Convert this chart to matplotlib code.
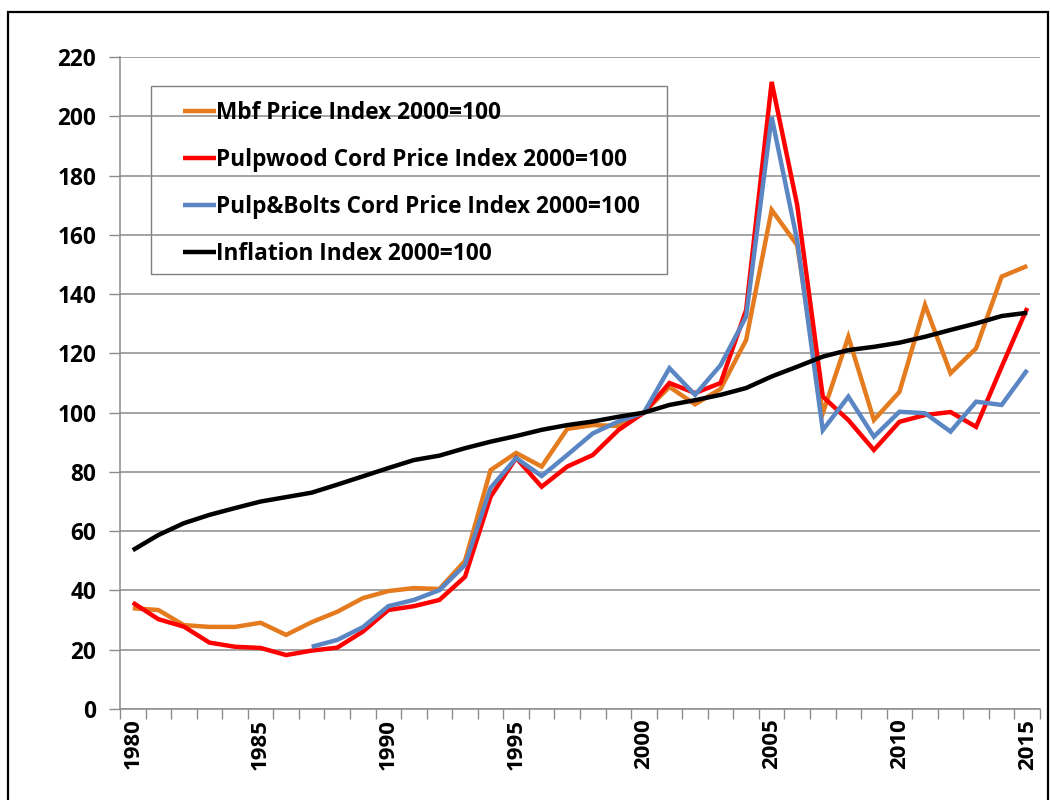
import matplotlib
matplotlib.use("Agg")
import matplotlib.pyplot as plt
from matplotlib.patches import Rectangle
from matplotlib.ticker import FixedLocator
import numpy as np

years = list(range(1980, 2016))

mbf = [34, 33.4, 28.3, 27.7, 27.7, 29.1, 25, 29.3, 32.8, 37.4, 39.8, 40.8,
       40.5, 50, 80.6, 86.4, 81.8, 94.5, 95.8, 95.5, 100, 108.7, 102.8, 108,
       124.5, 168.4, 156.5, 99.8, 125.6, 97.5, 107, 136.3, 113.3, 121.7, 145.9, 149.5]

pulpwood = [35.9, 30.3, 27.8, 22.4, 21, 20.6, 18.2, 19.7, 20.7, 26.1, 33.4, 34.7,
            36.8, 44.6, 71.6, 84.7, 75, 81.8, 85.7, 94.1, 100, 110, 106.6, 110,
            134.6, 211.6, 170, 105.4, 97.5, 87.4, 96.9, 99.2, 100.2, 95.2, 115.5, 135.3]

pulp_bolts = [None] * 7 + [21, 23.3, 27.6, 34.7, 36.8,
              40.1, 48.6, 74.6, 84.7, 78.6, 85.7, 93, 97, 100, 115, 106, 116,
              132.4, 199.8, 158, 94.1, 105.4, 91.9, 100.3, 99.8, 93.6, 103.7, 102.6, 114.4]

inflation = [53.6, 58.7, 62.7, 65.5, 67.8, 70, 71.5, 73, 75.7, 78.5, 81.3, 84,
             85.5, 88, 90.2, 92.1, 94.2, 95.8, 97, 98.6, 100, 102.6, 104.2, 106,
             108.3, 112.2, 115.5, 118.9, 121.1, 122.2, 123.6, 125.6, 127.9, 130.1, 132.6, 133.7]

labels = ["Mbf Price Index 2000=100",
          "Pulpwood Cord Price Index 2000=100",
          "Pulp&Bolts Cord Price Index 2000=100",
          "Inflation Index 2000=100"]
colors = ["#E47B1E", "#FF0000", "#5A86C4", "#000000"]

label_years = [1980, 1985, 1990, 1995, 2000, 2005, 2010, 2015]
y_ticks = list(range(0, 221, 20))

plt.rcParams['font.family'] = ['Open Sans', 'DejaVu Sans']
plt.rcParams['font.weight'] = 'bold'

W, H = 1050, 800
fig = plt.figure(figsize=(W / 100, H / 100), dpi=100)
ax = fig.add_axes([120 / W, 1 - 709 / H, (1040 - 120) / W, (709 - 57) / H])


def to_arr(v):
    return np.array([np.nan if x is None else x for x in v], dtype=float)


for data, lab, col in zip([mbf, pulpwood, pulp_bolts, inflation], labels, colors):
    ax.plot(years, to_arr(data), color=col, lw=3.2, label=lab,
            solid_joinstyle='miter', solid_capstyle='butt')

ax.set_xlim(1979.5, 2015.5)
ax.set_ylim(0, 220)
ax.set_yticks(y_ticks)
ax.set_yticklabels([str(v) for v in y_ticks])
ax.yaxis.grid(True, color="#8C8C8C", lw=1.1)
ax.set_axisbelow(True)

ax.xaxis.set_major_locator(FixedLocator(label_years))
ax.set_xticklabels([str(y) for y in label_years], rotation=90)
ax.xaxis.set_minor_locator(FixedLocator([y - 0.5 for y in years] + [2015.5]))
ax.tick_params(axis='x', which='major', length=0, pad=7, labelsize=16)
ax.tick_params(axis='x', which='minor', length=7, direction='out', color="#8C8C8C", width=1)
ax.tick_params(axis='y', which='major', length=8, direction='out', color="#8C8C8C",
               width=1, pad=9, labelsize=16.3)

for s in ['top', 'right']:
    ax.spines[s].set_visible(False)
for s in ['left', 'bottom']:
    ax.spines[s].set_color("#8C8C8C")
    ax.spines[s].set_linewidth(1.1)

# legend (frame drawn separately)
leg = ax.legend(loc='upper left',
                bbox_to_anchor=(183 / W, 1 - 101 / H), bbox_transform=fig.transFigure,
                frameon=False, prop={'size': 16.3, 'weight': 'bold'}, handlelength=1.45,
                handletextpad=0.0, labelspacing=1.01, borderpad=0, borderaxespad=0)

fig.patches.append(Rectangle((151 / W, 1 - 274 / H), (667 - 151) / W, (274 - 86) / H,
                             transform=fig.transFigure, facecolor='white',
                             edgecolor="#7F7F7F", lw=1.0, zorder=0.5))
ax.set_zorder(1)
ax.patch.set_alpha(0)

fig.patches.append(Rectangle((8 / W, -0.1), (1048 - 8) / W, 1.1 - 12 / H,
                             transform=fig.transFigure, fill=False,
                             edgecolor='black', lw=1.6))

fig.savefig("out.png", dpi=100)
